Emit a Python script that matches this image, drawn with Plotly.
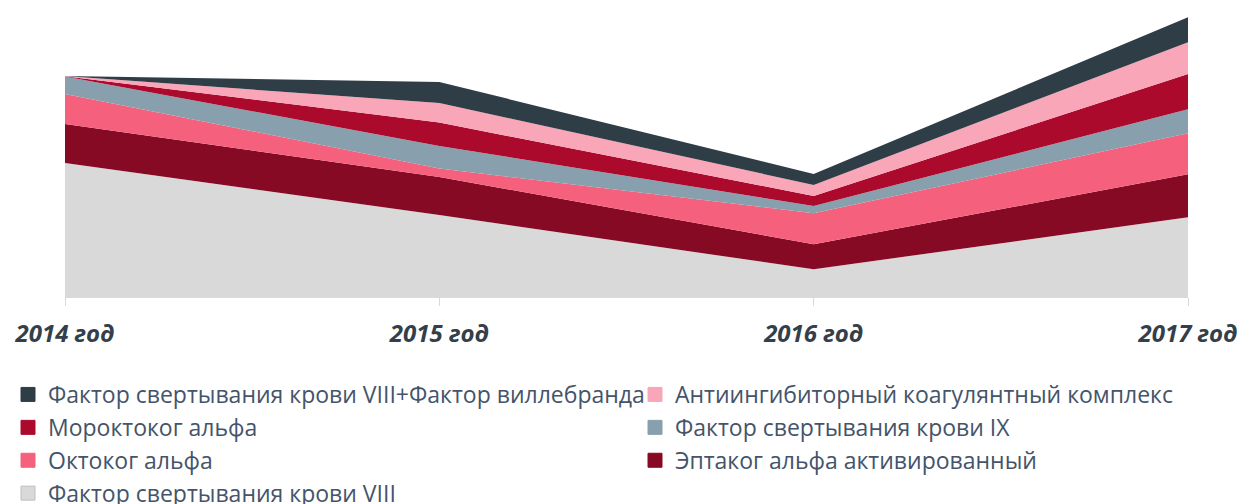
import plotly.graph_objects as go

years = ["2014 год", "2015 год", "2016 год", "2017 год"]
x_pos = [0, 1, 2, 3]

names = [
    "Фактор свертывания крови VIII",
    "Эптаког альфа активированный",
    "Октоког альфа",
    "Фактор свертывания крови IX",
    "Мороктоког альфа",
    "Антиингибиторный коагулянтный комплекс",
    "Фактор свертывания крови VIII+Фактор виллебранда",
]
factor_viii = [134, 82, 27.7, 79.7]
eptacog = [39, 38, 25, 43]
octocog = [30, 8.5, 31, 41]
factor_ix = [17.5, 22.5, 7.3, 24]
moroctocog = [0.3, 23.5, 10, 35.3]
aic = [0.2, 19.5, 11, 31.7]
vwf = [0.1, 21, 11, 25]
series = [factor_viii, eptacog, octocog, factor_ix, moroctocog, aic, vwf]
colors = ["#D9D9D9", "#870A24", "#F5607D", "#889FAD", "#AB0A2C", "#F8A6B8", "#2F3D47"]

# legend layout: left column / right column (indices into names)
left_col = [6, 4, 2, 0]
right_col = [5, 3, 1]

fig = go.Figure()
for name, vals, col in zip(names, series, colors):
    fig.add_trace(go.Scatter(
        x=x_pos, y=vals, name=name, stackgroup="one", mode="lines",
        line=dict(width=0, color=col), fillcolor=col, showlegend=False,
        hoverinfo="skip",
    ))
for lg, idxs in (("legend", left_col), ("legend2", right_col)):
    for i in idxs:
        col = colors[i]
        fig.add_trace(go.Scatter(
            x=[None], y=[None], name=names[i], mode="markers", legend=lg,
            marker=dict(symbol="square", size=14, color=col,
                        line=dict(width=1, color="#BFBFBF" if col == "#D9D9D9" else col)),
        ))

legend_common = dict(
    orientation="v", traceorder="normal",
    xref="container", yref="container",
    xanchor="left", yanchor="top",
    font=dict(family="Open Sans", size=23, color="#44546A"),
    itemwidth=30, tracegroupgap=0,
    bgcolor="rgba(0,0,0,0)",
)

W, H = 1237, 496
fig.update_layout(
    width=W, height=H,
    margin=dict(l=57, r=57, t=0, b=207, autoexpand=False),
    paper_bgcolor="white", plot_bgcolor="white",
    xaxis=dict(
        range=[0, 3], tickvals=x_pos, ticktext=years,
        showgrid=False, zeroline=False, showline=True, linecolor="#D9D9D9", linewidth=1,
        ticks="outside", ticklen=8, tickcolor="#D9D9D9", ticklabelstandoff=7,
        tickfont=dict(family="Open Sans", size=24, color="#333F4A", weight="bold", style="italic"),
        automargin=False,
    ),
    yaxis=dict(range=[0, 289], visible=False),
    showlegend=True,
    legend=dict(legend_common, x=0.0, y=(H - 365) / H),
    legend2=dict(legend_common, x=627 / W, y=(H - 365) / H),
)

fig.write_html("out.html")
